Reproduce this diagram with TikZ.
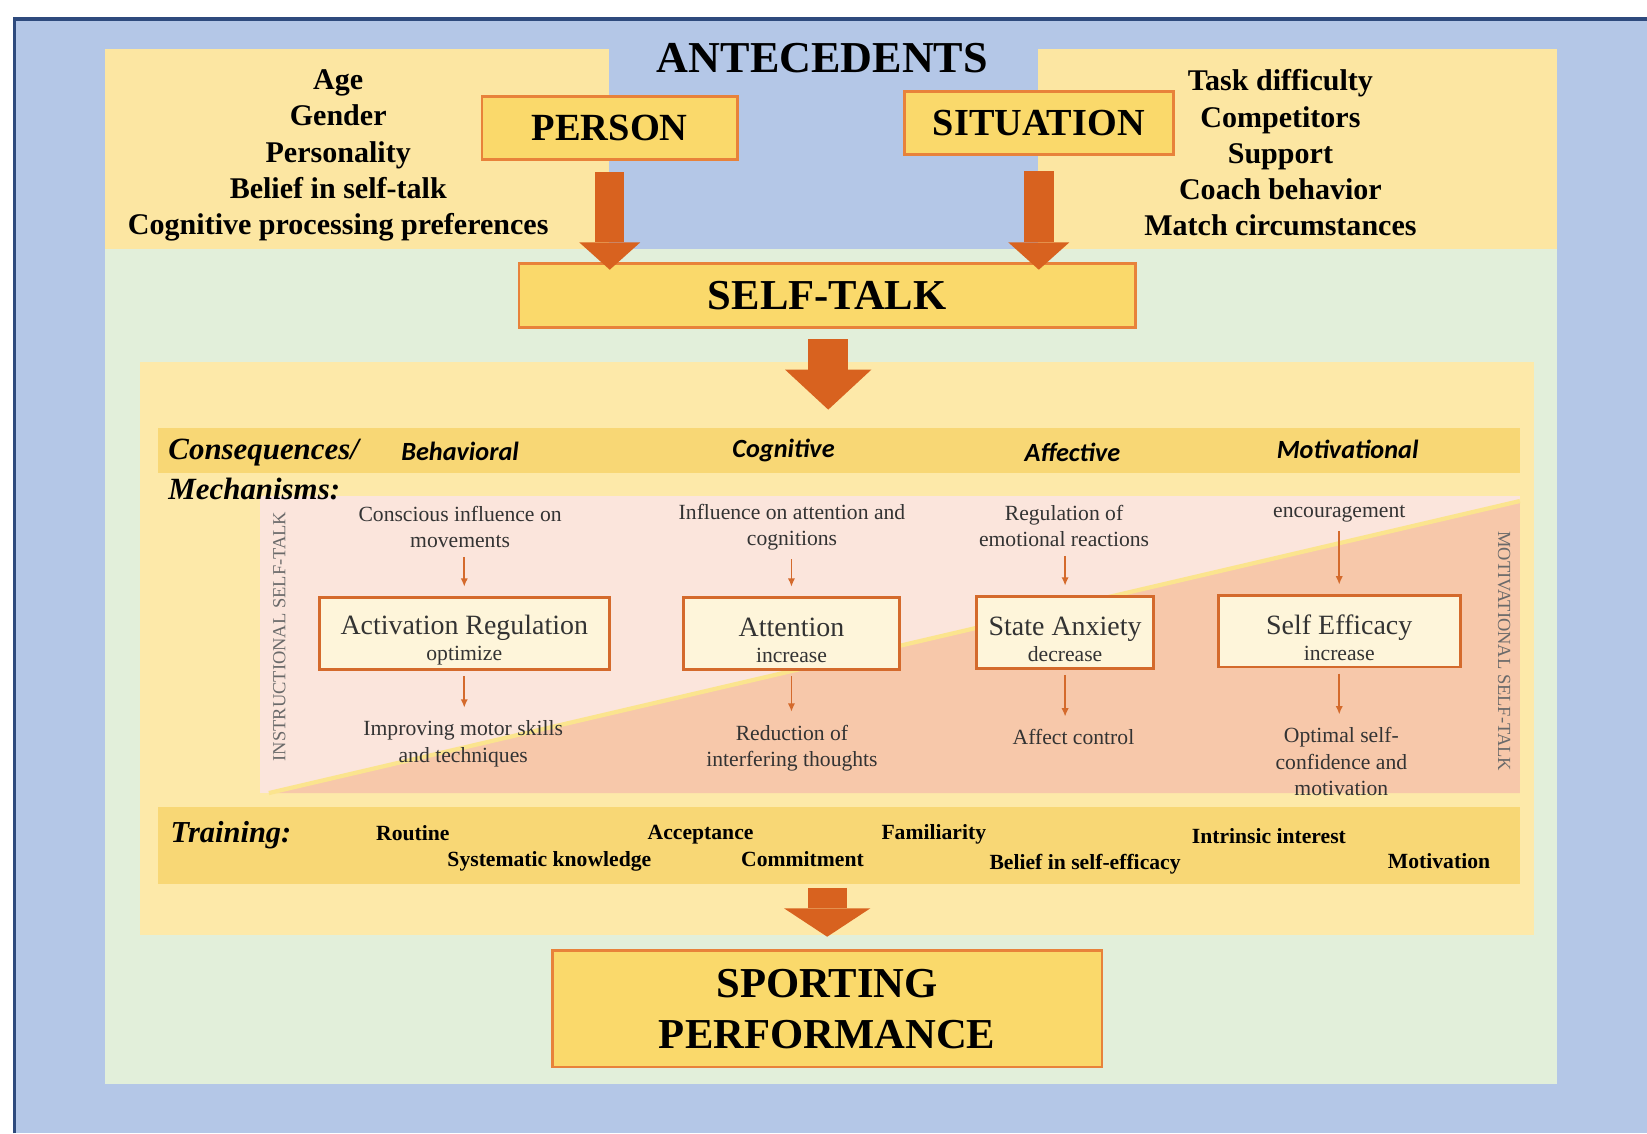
\documentclass[tikz,border=0pt]{standalone}
\usepackage{fontspec}
\setmainfont{Liberation Serif}
\newfontfamily\calib{Carlito}
\usetikzlibrary{arrows.meta}
\definecolor{bluebg}{HTML}{B4C7E7}
\definecolor{blueline}{HTML}{2E4A7D}
\definecolor{greenbg}{HTML}{E2EFDA}
\definecolor{ylight}{HTML}{FCE6A2}
\definecolor{yinner}{HTML}{FDE9A9}
\definecolor{band}{HTML}{F8D775}
\definecolor{boxfill}{HTML}{FAD96B}
\definecolor{boxline}{HTML}{E8823A}
\definecolor{arrowO}{HTML}{D8621F}
\definecolor{pinkL}{HTML}{FBE5DC}
\definecolor{salmon}{HTML}{F7C8AA}
\definecolor{diag}{HTML}{FBE48E}
\definecolor{mfill}{HTML}{FEF5DA}
\definecolor{mline}{HTML}{D46A2C}
\definecolor{txtgray}{HTML}{333333}
\definecolor{rotgray}{HTML}{6A6A6A}
\newcommand{\boxstrut}{\rule{0pt}{15.6pt}}
\begin{document}
\begin{tikzpicture}[x=0.5pt,y=-0.5pt,
  bigbox/.style={draw=boxline, line width=1.2pt, fill=boxfill, inner sep=0pt, align=center},
  mbox/.style={draw=mline, line width=1.4pt, fill=mfill, inner sep=0pt, align=center, text=txtgray},
  listtxt/.style={align=center, inner sep=0pt, anchor=north, font=\fontsize{14.3}{17.25}\selectfont\bfseries},
  smalltxt/.style={align=center, inner sep=0pt, text=txtgray, font=\fontsize{10.3}{12.5}\selectfont},
  colhead/.style={inner sep=0pt, font=\calib\fontsize{12.5}{15}\selectfont\bfseries\itshape},
  trainw/.style={inner sep=0pt, font=\fontsize{10.3}{12.5}\selectfont\bfseries},
  sidelab/.style={inner sep=0pt, text=rotgray, font=\fontsize{8.8}{10}\selectfont},
  smallarr/.style={draw=mline, line width=0.9pt, -{Latex[length=4pt,width=3.5pt]}},
  fatarrow/.style={draw=arrowO, line width=14pt, -{Triangle[width=29pt,length=13pt,line width=0pt 0 0]}},
  fatarrowb/.style={draw=arrowO, line width=19pt, -{Triangle[width=41pt,length=19pt,line width=0pt 0 0]}},
  fatarrowc/.style={draw=arrowO, line width=18.5pt, -{Triangle[width=41pt,length=13.5pt,line width=0pt 0 0]}}
]
\useasboundingbox (0,0) rectangle (1568,1079);
\fill[white] (0,0) rectangle (1568,1079);
% outer blue frame
\fill[bluebg] (14,18) rectangle (1568,1079);
\draw[blueline, line width=1.6pt] (14,1079) -- (14,18) -- (1568,18);
% green and top yellow panels
\fill[greenbg] (100,237) rectangle (1482,1032);
\fill[ylight] (100,47) rectangle (580,237);
\fill[ylight] (988,47) rectangle (1482,237);
% inner yellow panel and bands
\fill[yinner] (133,345) rectangle (1460,890);
\fill[band] (150,407) rectangle (1447,450);
\node[fill=band, minimum width=648.5pt, minimum height=37pt, inner sep=0pt] (train) at (798.5,805) {};
% pink panel with diagonal
\fill[pinkL] (248,472) rectangle (1447,755);
\fill[salmon] (256,755) -- (1447,477) -- (1447,755) -- cycle;
\draw[diag, line width=2pt] (256,755) -- (1447,477);

% antecedents
\node[inner sep=0pt, font=\fontsize{21}{24}\selectfont\bfseries] (ante) at (783,55) {ANTECEDENTS};
\node[bigbox, minimum width=121.5pt, minimum height=30pt, font=\fontsize{18.3}{20}\selectfont\bfseries] (person) at (580.5,122) {PERSON};
\node[bigbox, minimum width=128pt, minimum height=30pt, font=\fontsize{18.2}{20}\selectfont\bfseries] (situation) at (989,117) {SITUATION};
\node[listtxt] (plist) at (322,66) {Age\\Gender\\Personality\\Belief in self-talk\\Cognitive processing preferences};
\node[listtxt] (slist) at (1219,66) {Task difficulty\\Competitors\\Support\\Coach behavior\\Match circumstances};
\node[bigbox, minimum width=293.5pt, minimum height=30.5pt, font=\fontsize{20.3}{22}\selectfont\bfseries] (selftalk) at (787.5,281.5) {SELF-TALK};

\draw[fatarrow] ([yshift=-5.5pt]person.south) -- ([yshift=-3.5pt]person.south |- selftalk.north);
\draw[fatarrow] ([yshift=-7.5pt]situation.south) -- ([yshift=-3.5pt]situation.south |- selftalk.north);
\coordinate (midtip) at (788.5,390);
\draw[fatarrowb] ([xshift=0.5pt,yshift=-5pt]selftalk.south) -- (midtip);

% consequences header
\node[anchor=west, inner sep=0pt, font=\fontsize{14.7}{17}\selectfont\bfseries\itshape] (cons) at (160,431) {Consequences/};
\node[anchor=west, inner sep=0pt, font=\fontsize{14.7}{17}\selectfont\bfseries\itshape] (mech) at (160,466) {Mechanisms:};
\node[colhead] (hbeh) at (438,430) {Behavioral};
\node[colhead] (hcog) at (746,429) {Cognitive};
\node[colhead] (haff) at (1021,431) {Affective};
\node[colhead] (hmot) at (1283,428) {Motivational};

% side labels
\node[sidelab, rotate=90] (instr) at (266,606) {INSTRUCTIONAL SELF-TALK};
\node[sidelab, rotate=-90] (motiv) at (1432,620) {MOTIVATIONAL SELF-TALK};

% column 1
\node[smalltxt] (t1) at (438,502) {Conscious influence on\\movements};
\node[mbox, minimum width=138pt, minimum height=34pt] (b1) at (442,603) {{\fontsize{13.3}{15}\selectfont\boxstrut Activation Regulation}\\[0.5pt]{\fontsize{10.3}{12}\selectfont optimize}};
\node[smalltxt] (o1) at (441,708) {Improving motor skills\\and techniques};
% column 2
\node[smalltxt] (t2) at (754,502) {Influence on attention and\\cognitions};
\node[mbox, minimum width=102.5pt, minimum height=34pt] (b2) at (753.5,603) {{\fontsize{13.3}{15}\selectfont\boxstrut Attention}\\[0.5pt]{\fontsize{10.3}{12}\selectfont increase}};
\node[smalltxt] (o2) at (754,712) {Reduction of\\interfering thoughts};
% column 3
\node[smalltxt] (t3) at (1013,501) {Regulation of\\emotional reactions};
\node[mbox, minimum width=84pt, minimum height=34pt] (b3) at (1014,602) {{\fontsize{13.3}{15}\selectfont\boxstrut State Anxiety}\\[0.5pt]{\fontsize{10.3}{12}\selectfont decrease}};
\node[smalltxt] (o3) at (1022,702) {Affect control};
% column 4
\node[smalltxt] (t4) at (1275,489) {encouragement};
\node[mbox, minimum width=115pt, minimum height=34pt] (b4) at (1275,601) {{\fontsize{13.3}{15}\selectfont\boxstrut Self Efficacy}\\[0.5pt]{\fontsize{10.3}{12}\selectfont increase}};
\node[smalltxt] (o4) at (1277,725) {Optimal self-\\confidence and\\motivation};

\foreach \i in {1,2,3,4}{
  \draw[smallarr, shorten <=4pt, shorten >=4.5pt] (t\i.south -| b\i.north) -- (b\i.north);
  \draw[smallarr, shorten <=2.5pt, shorten >=6pt] (b\i.south) -- (b\i.south |- o\i.north);
}

% training
\node[anchor=west, inner sep=0pt, font=\fontsize{14.5}{17}\selectfont\bfseries\itshape] (trl) at (162,795) {Training:};
\node[trainw] (w1) at (393,793) {Routine};
\node[trainw] (w2) at (523,820) {Systematic knowledge};
\node[trainw] (w3) at (667,795) {Acceptance};
\node[trainw] (w4) at (764,818) {Commitment};
\node[trainw] (w5) at (889,794) {Familiarity};
\node[trainw] (w6) at (1033,823) {Belief in self-efficacy};
\node[trainw] (w7) at (1208,796) {Intrinsic interest};
\node[trainw] (w8) at (1370,820) {Motivation};

% performance
\node[bigbox, minimum width=261.5pt, minimum height=55.5pt, font=\fontsize{20.3}{24.5}\selectfont\bfseries] (perf) at (787.5,960.5) {SPORTING\\PERFORMANCE};
\draw[fatarrowc] ([yshift=-1.5pt]train.south -| perf.north) -- ([yshift=6pt]perf.north);
\end{tikzpicture}
\end{document}
